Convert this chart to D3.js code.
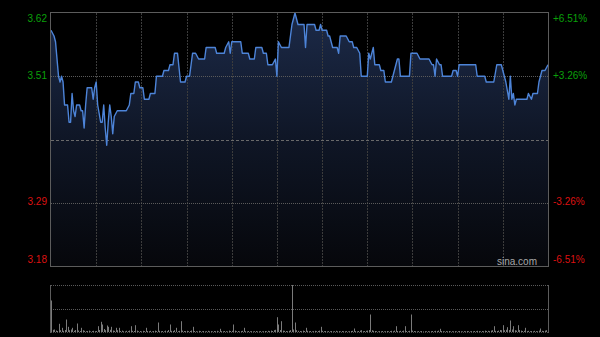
<!DOCTYPE html>
<html>
<head>
<meta charset="utf-8">
<script src="https://cdn.jsdelivr.net/npm/d3@7"></script>
<style>
  html, body { margin: 0; padding: 0; background: #000; }
  svg { display: block; }
</style>
</head>
<body>
<svg id="chart" width="600" height="337"></svg>
<script>
// ---- DATA ----
const prevClose = 3.40;
const priceMin = 3.18, priceMax = 3.62;
const totalMinutes = 330;
const leftTickValues = [3.62, 3.51, 3.29, 3.18];
const leftTickLabels = ["3.62", "3.51", "3.29", "3.18"];
const rightTickLabels = ["+6.51%", "+3.26%", "-3.26%", "-6.51%"];
const gridMinutes = [30, 60, 90, 120, 150, 180, 210, 240, 270, 300];

// minute offsets from open and prices
const priceMinutes = [0,2,3,5,6,7,8,9,11,12,13,14,15,16,17,19,20,21,22,23,24,27,28,29,30,31,33,34,35,36,37,38,39,40,41,42,44,50,52,53,55,56,58,59,61,62,65,66,69,70,74,75,78,79,81,82,84,86,89,90,92,94,96,98,102,103,109,110,115,116,118,119,120,126,127,131,132,135,136,140,141,143,144,147,149,150,151,153,158,160,162,164,168,169,170,175,176,178,179,180,183,184,185,186,187,190,191,192,196,198,200,201,203,205,206,210,211,212,214,215,218,219,221,222,226,228,230,231,232,238,239,243,245,251,253,254,255,256,258,259,260,266,267,269,270,271,282,283,288,289,294,296,299,301,302,304,305,306,307,308,309,316,317,319,320,323,324,326,328,330];
const prices = [3.59,3.58,3.57,3.51,3.50,3.51,3.50,3.46,3.46,3.43,3.43,3.48,3.45,3.44,3.46,3.46,3.45,3.45,3.42,3.46,3.49,3.49,3.47,3.49,3.50,3.46,3.43,3.43,3.46,3.42,3.39,3.43,3.46,3.44,3.41,3.44,3.45,3.45,3.46,3.48,3.48,3.50,3.50,3.49,3.49,3.47,3.47,3.48,3.48,3.51,3.51,3.52,3.52,3.53,3.53,3.55,3.55,3.50,3.50,3.51,3.51,3.55,3.55,3.54,3.54,3.56,3.56,3.55,3.55,3.56,3.57,3.55,3.57,3.57,3.55,3.55,3.54,3.54,3.56,3.56,3.55,3.55,3.53,3.53,3.54,3.51,3.57,3.56,3.56,3.60,3.62,3.60,3.60,3.56,3.60,3.60,3.59,3.59,3.60,3.59,3.59,3.58,3.58,3.57,3.56,3.56,3.55,3.58,3.58,3.57,3.57,3.56,3.56,3.55,3.51,3.51,3.55,3.54,3.56,3.53,3.53,3.52,3.52,3.50,3.50,3.52,3.54,3.54,3.51,3.51,3.55,3.55,3.54,3.54,3.53,3.53,3.51,3.54,3.53,3.53,3.51,3.51,3.52,3.52,3.51,3.53,3.53,3.51,3.51,3.50,3.50,3.53,3.53,3.51,3.50,3.47,3.51,3.47,3.48,3.46,3.47,3.47,3.48,3.47,3.48,3.48,3.50,3.52,3.52,3.53];

// volume per minute (thousand shares), minutes 0..330
const volumes = [
315,22,25,15,10,82,18,42,12,20,125,52,18,25,42,12,20,85,15,10,42,18,12,8,10,14,6,9,12,8,
10,58,20,102,75,30,18,65,52,22,52,15,12,42,18,42,10,14,8,6,12,9,15,58,12,10,68,14,8,10,
6,12,9,42,10,8,12,6,10,14,9,95,12,8,10,6,14,9,20,75,12,10,18,42,8,12,108,14,10,9,
12,8,10,15,52,10,8,6,12,9,7,10,6,8,12,7,9,6,10,8,12,6,32,9,7,10,8,6,14,10,
12,75,14,8,10,6,9,12,42,8,6,10,7,9,6,8,10,6,7,9,6,8,10,7,12,9,14,10,18,22,
148,75,20,108,14,12,10,8,12,18,470,25,95,18,12,10,8,14,10,42,12,8,10,6,9,12,8,10,14,52,
12,8,10,6,9,7,10,6,8,12,7,9,6,10,8,7,9,6,8,10,12,35,9,6,10,14,18,8,10,12,
14,20,175,18,12,10,8,6,9,7,10,6,8,10,7,9,12,8,14,58,10,8,12,9,14,58,10,8,12,175,
14,10,8,6,9,7,10,6,8,7,9,6,8,10,7,12,9,14,32,10,8,6,9,7,10,6,8,7,9,6,
8,10,7,6,9,7,10,8,6,9,7,10,8,12,9,7,10,8,14,10,12,9,14,18,58,12,10,14,20,18,
68,18,22,48,20,115,25,58,18,14,68,20,14,10,12,42,9,12,8,10,7,12,9,8,14,35,12,10,14,18,
22
];

// ---- DRAW ----
const svg = d3.select("#chart");
const L = 51, R = 548, T = 13, B = 266;
const VT = 285, VB = 332;

const x = d3.scaleLinear().domain([0, totalMinutes]).range([L, R]);
const y = d3.scaleLinear().domain([priceMin, priceMax]).range([B, T]);
const vy = d3.scaleLinear().domain([0, d3.max(volumes)]).range([VB, VT]);

const defs = svg.append("defs");
const grad = defs.append("linearGradient")
  .attr("id", "fillGrad").attr("gradientUnits", "userSpaceOnUse")
  .attr("x1", 0).attr("y1", T).attr("x2", 0).attr("y2", B);
grad.append("stop").attr("offset", "0%").attr("stop-color", "#1c2a48");
grad.append("stop").attr("offset", "50%").attr("stop-color", "#0f1626");
grad.append("stop").attr("offset", "100%").attr("stop-color", "#06070b");

const pts = priceMinutes.map((m, i) => [m, prices[i]]);

// area
svg.append("path")
  .datum(pts)
  .attr("d", d3.area().x(d => x(d[0])).y0(y(priceMin)).y1(d => y(d[1])))
  .attr("fill", "url(#fillGrad)");

// vertical grid
svg.append("g").selectAll("line").data(gridMinutes).join("line")
  .attr("x1", d => Math.round(x(d)) + 0.5).attr("x2", d => Math.round(x(d)) + 0.5)
  .attr("y1", T).attr("y2", B)
  .attr("stroke", "#3c3c3c").attr("stroke-width", 1).attr("stroke-dasharray", "2,1");

// horizontal grid
svg.append("g").selectAll("line").data([3.51, 3.29]).join("line")
  .attr("x1", L).attr("x2", R)
  .attr("y1", d => Math.round(y(d)) + 0.5).attr("y2", d => Math.round(y(d)) + 0.5)
  .attr("stroke", "#5a5a5a").attr("stroke-width", 1).attr("stroke-dasharray", "1,1");

svg.append("line")
  .attr("x1", L).attr("x2", R)
  .attr("y1", Math.round(y(prevClose)) + 0.5).attr("y2", Math.round(y(prevClose)) + 0.5)
  .attr("stroke", "#6a6a6a").attr("stroke-width", 1).attr("stroke-dasharray", "3,2");

// price line
svg.append("path")
  .datum(pts)
  .attr("d", d3.line().x(d => x(d[0])).y(d => y(d[1])))
  .attr("fill", "none").attr("stroke", "#4d84d8").attr("stroke-width", 1.4)
  .attr("stroke-linejoin", "round");

// frame
svg.append("rect")
  .attr("x", L - 0.5).attr("y", T - 0.5).attr("width", R - L + 1).attr("height", B - T + 1)
  .attr("fill", "none").attr("stroke", "#5c5c5c").attr("stroke-width", 1);

// axis labels
const labelColor = v => v > prevClose ? "#0aa00a" : "#dd1111";
const labelOffset = i => i === 0 ? 6 : (i === leftTickValues.length - 1 ? -6 : 0);
svg.append("g").selectAll("text").data(leftTickValues).join("text")
  .attr("x", L - 4).attr("y", (d, i) => y(d) + labelOffset(i))
  .attr("text-anchor", "end").attr("dominant-baseline", "middle")
  .attr("font-family", "Arial, 'Liberation Sans', sans-serif").attr("font-size", 10)
  .attr("fill", d => labelColor(d))
  .text((d, i) => leftTickLabels[i]);

svg.append("g").selectAll("text").data(leftTickValues).join("text")
  .attr("x", R + 5).attr("y", (d, i) => y(d) + labelOffset(i))
  .attr("text-anchor", "start").attr("dominant-baseline", "middle")
  .attr("font-family", "Arial, 'Liberation Sans', sans-serif").attr("font-size", 10)
  .attr("fill", d => labelColor(d))
  .text((d, i) => rightTickLabels[i]);

// watermark
svg.append("text")
  .attr("x", 537).attr("y", 262)
  .attr("text-anchor", "end").attr("dominant-baseline", "middle")
  .attr("font-family", "Arial, 'Liberation Sans', sans-serif").attr("font-size", 10)
  .attr("fill", "#a8a8a8")
  .text("sina.com");

// ---- VOLUME ----
[VT, Math.round((VT + VB) / 2)].forEach(yy => {
  svg.append("line").attr("x1", L).attr("x2", R)
    .attr("y1", yy + 0.5).attr("y2", yy + 0.5)
    .attr("stroke", "#5a5a5a").attr("stroke-dasharray", "1,1");
});
svg.append("line").attr("x1", L).attr("x2", R)
  .attr("y1", VB + 0.5).attr("y2", VB + 0.5)
  .attr("stroke", "#4a4a4a").attr("stroke-dasharray", "1,1");

svg.append("g").selectAll("rect").data(volumes).join("rect")
  .attr("x", (d, i) => Math.round(x(i)))
  .attr("width", 1)
  .attr("y", d => vy(d))
  .attr("height", d => VB - vy(d))
  .attr("fill", "#7a7a7a");

svg.append("line").attr("x1", L - 0.5).attr("x2", L - 0.5).attr("y1", VT).attr("y2", VB + 1)
  .attr("stroke", "#5c5c5c");
svg.append("line").attr("x1", R + 0.5).attr("x2", R + 0.5).attr("y1", VT).attr("y2", VB + 1)
  .attr("stroke", "#5c5c5c");
</script>
</body>
</html>
